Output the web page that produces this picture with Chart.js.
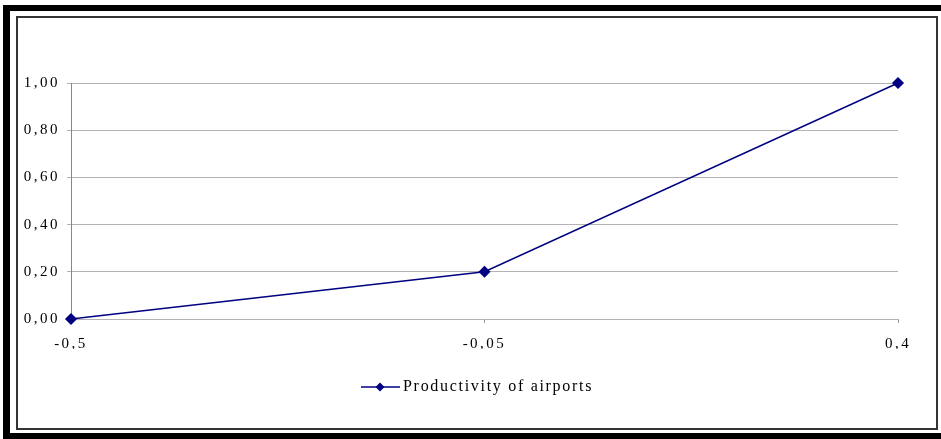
<!DOCTYPE html>
<html>
<head>
<meta charset="utf-8">
<script src="https://cdn.jsdelivr.net/npm/chart.js@4"></script>
<style>
  body { margin: 0; background: #fff; }
  #wrap { position: relative; width: 941px; height: 439px; overflow: hidden; }
  .blk { position: absolute; background: #000; }
  #frame { position: absolute; left: 16px; top: 16px; width: 918px; height: 410px; border: 2px solid #333; }
  canvas { position: absolute; left: 0; top: 0; }
</style>
</head>
<body>
<div id="wrap">
  <div class="blk" style="left:3px;top:5px;width:938px;height:6px"></div>
  <div class="blk" style="left:3px;top:5px;width:7px;height:434px"></div>
  <div class="blk" style="left:3px;top:433px;width:938px;height:6px"></div>
  <div id="frame"></div>
  <canvas id="chart" width="941" height="439"></canvas>
</div>
<script>
// 데이터
const categories = ["-0,5", "-0,05", "0,4"];
const productivity = [0, 0.2, 1.0];
const seriesLabel = "Productivity of airports";

const lineColor = "#000080";
const fontFamily = "'Liberation Serif', 'DejaVu Serif', serif";

// 엑셀처럼 넓은 자간 (캔버스 크기 설정 후 상태가 초기화되므로 그리기 직전에 지정)
const wideSpacing = {
  id: "wideSpacing",
  beforeDraw(chart) {
    chart.ctx.letterSpacing = "2.5px";
  },
};

// 범례 직접 그리기 (선 + 마름모)
const lineLegend = {
  id: "lineLegend",
  afterDraw(chart) {
    const ctx = chart.ctx;
    const ds = chart.data.datasets[0];
    const y = 387, x0 = 361, x1 = 400, mx = 380;
    ctx.save();
    ctx.strokeStyle = ds.borderColor;
    ctx.lineWidth = 1.5;
    ctx.beginPath();
    ctx.moveTo(x0, y);
    ctx.lineTo(x1, y);
    ctx.stroke();
    ctx.fillStyle = ds.borderColor;
    ctx.beginPath();
    ctx.moveTo(mx, y - 4.5);
    ctx.lineTo(mx + 4.5, y);
    ctx.lineTo(mx, y + 4.5);
    ctx.lineTo(mx - 4.5, y);
    ctx.closePath();
    ctx.fill();
    ctx.fillStyle = "#000";
    ctx.font = "16px " + fontFamily;
    ctx.letterSpacing = "1.7px";
    ctx.textBaseline = "middle";
    ctx.fillText(ds.label, 403, y);
    ctx.restore();
  },
};

const ctx = document.getElementById("chart").getContext("2d");
new Chart(ctx, {
  type: "line",
  data: {
    labels: categories,
    datasets: [
      {
        label: seriesLabel,
        data: productivity,
        borderColor: lineColor,
        backgroundColor: lineColor,
        borderWidth: 1.5,
        pointStyle: "rectRot",
        pointRadius: 5,
        pointHoverRadius: 5,
        tension: 0,
        clip: false,
      },
    ],
  },
  options: {
    responsive: false,
    animation: false,
    events: [],
    layout: { padding: { left: 16, right: 43, top: 83, bottom: 90 } },
    plugins: { legend: { display: false }, tooltip: { enabled: false } },
    scales: {
      x: {
        offset: false,
        afterFit: (scale) => { scale.height = 30; },
        grid: { drawOnChartArea: false, drawTicks: true, tickLength: 4, color: "#999" },
        border: { color: "#b3b3b3", width: 1 },
        ticks: { color: "#000", padding: 12, maxRotation: 0, font: { family: fontFamily, size: 15 } },
      },
      y: {
        min: 0,
        max: 1,
        afterFit: (scale) => { scale.width = 55; },
        grid: { color: "#b3b3b3", tickLength: 4 },
        border: { color: "#888", width: 1 },
        ticks: {
          stepSize: 0.2,
          color: "#000",
          padding: 7,
          font: { family: fontFamily, size: 15 },
          callback: (v) => v.toFixed(2).replace(".", ","),
        },
      },
    },
  },
  plugins: [wideSpacing, lineLegend],
});
</script>
</body>
</html>
